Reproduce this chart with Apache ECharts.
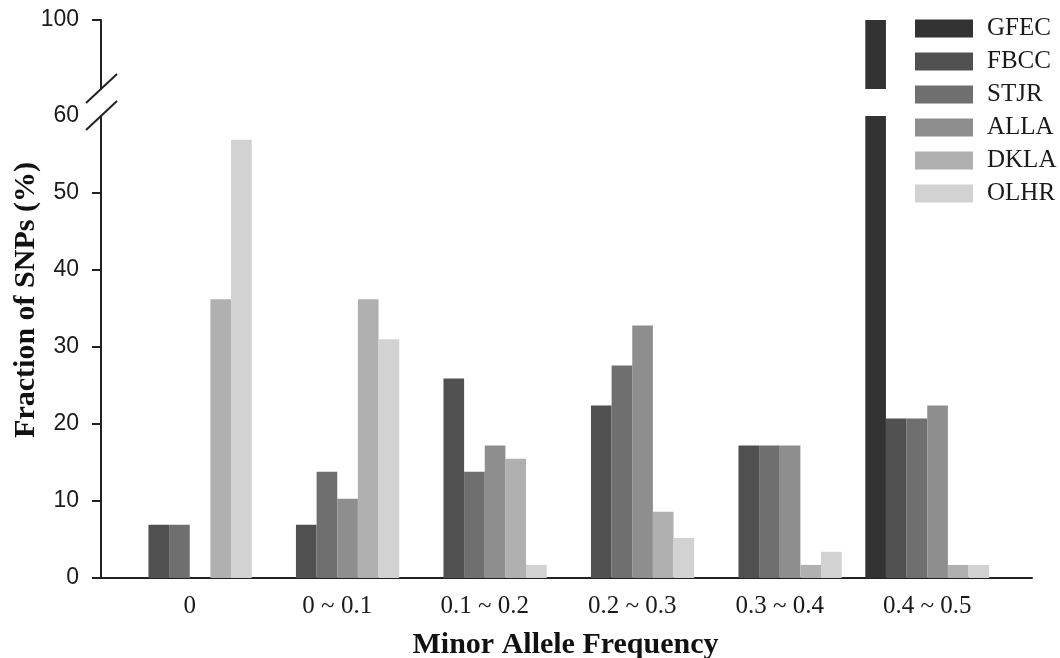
<!DOCTYPE html>
<html>
<head>
<meta charset="utf-8">
<script src="https://cdn.jsdelivr.net/npm/echarts@6/dist/echarts.min.js"></script>
<style>
  html, body { margin: 0; padding: 0; background: #fff; }
  #main { width: 1060px; height: 658px; }
</style>
</head>
<body>
<div id="main"></div>
<script>
// 数据
const categories = ['0', '0 ~ 0.1', '0.1 ~ 0.2', '0.2 ~ 0.3', '0.3 ~ 0.4', '0.4 ~ 0.5'];
const seriesNames = ['GFEC', 'FBCC', 'STJR', 'ALLA', 'DKLA', 'OLHR'];
const gfec = [0, 0, 0, 0, 0, 100];
const fbcc = [6.9, 6.9, 25.9, 22.4, 17.2, 20.7];
const stjr = [6.9, 13.8, 13.8, 27.6, 17.2, 20.7];
const alla = [0, 10.3, 17.2, 32.8, 17.2, 22.4];
const dkla = [36.2, 36.2, 15.5, 8.6, 1.7, 1.7];
const olhr = [56.9, 31.0, 1.7, 5.2, 3.4, 1.7];
const lowerTicks = [0, 10, 20, 30, 40, 50, 60];
const upperTicks = [100];
// 断轴：下段 0~60，上段 91~100
const breakLow = 60;
const breakHigh = 91;
const topValue = 100;

const allValues = [gfec, fbcc, stjr, alla, dkla, olhr];
const colors = ['#333333', '#505050', '#6f6f6f', '#8e8e8e', '#b0b0b0', '#d2d2d2'];

let myChart = echarts.init(document.getElementById('main'));

const axisColor = '#222';
const serif = '"Liberation Serif", "Times New Roman", serif';
const sans = '"Liberation Sans", Arial, sans-serif';

let series = [];
allValues.forEach((vals, i) => {
  // 下段
  series.push({
    name: seriesNames[i],
    type: 'bar',
    xAxisIndex: 0,
    yAxisIndex: 0,
    data: vals,
    clip: true,
    barGap: '0%',
    barCategoryGap: '16%',
    itemStyle: { color: colors[i] }
  });
  // 上段 只画超过断点的部分
  series.push({
    name: seriesNames[i],
    type: 'bar',
    xAxisIndex: 1,
    yAxisIndex: 1,
    data: vals.map(v => v > breakLow ? v : '-'),
    clip: true,
    barGap: '0%',
    barCategoryGap: '16%',
    itemStyle: { color: colors[i] }
  });
});

let option = {
  animation: false,
  legend: {
    data: seriesNames,
    orient: 'vertical',
    left: 915,
    top: 16,
    padding: 0,
    icon: 'rect',
    itemWidth: 58,
    itemHeight: 18,
    itemGap: 8,
    selectedMode: false,
    textStyle: {
      fontFamily: serif,
      fontSize: 25,
      lineHeight: 25,
      color: '#1a1a1a',
      padding: [0, 0, 0, 9]
    }
  },
  grid: [
    { left: 116, right: 59, top: 116, bottom: 80, outerBoundsMode: 'none' },
    { left: 116, right: 59, top: 20, height: 69, outerBoundsMode: 'none' },
    { left: 101, right: 28, top: 116, bottom: 80, outerBoundsMode: 'none' }
  ],
  xAxis: [
    {
      type: 'category',
      gridIndex: 0,
      data: categories,
      axisLine: { show: false },
      axisTick: { show: false },
      axisLabel: {
        fontFamily: serif,
        fontSize: 25,
        color: '#1a1a1a',
        margin: 16
      },
      name: 'Minor Allele Frequency',
      nameLocation: 'middle',
      nameGap: 52,
      nameTextStyle: {
        fontFamily: serif,
        fontWeight: 'bold',
        fontSize: 30,
        color: '#111',
        padding: [0, 0, 0, 14]
      }
    },
    {
      type: 'category',
      gridIndex: 1,
      data: categories,
      show: false
    },
    {
      type: 'value',
      gridIndex: 2,
      min: 0,
      max: 1,
      axisLine: { show: true, lineStyle: { color: axisColor, width: 2 } },
      axisTick: { show: false },
      axisLabel: { show: false },
      splitLine: { show: false }
    }
  ],
  yAxis: [
    {
      type: 'value',
      gridIndex: 0,
      min: 0,
      max: breakLow,
      interval: 10,
      offset: 15,
      axisLine: { show: true, lineStyle: { color: axisColor, width: 2 } },
      axisTick: {
        show: true,
        length: 9,
        customValues: lowerTicks.filter(v => v < breakLow),
        lineStyle: { color: axisColor, width: 2 }
      },
      axisLabel: {
        customValues: lowerTicks,
        fontFamily: sans,
        fontSize: 23,
        color: '#1a1a1a',
        margin: 22
      },
      splitLine: { show: false }
    },
    {
      type: 'value',
      gridIndex: 1,
      min: breakHigh,
      max: topValue,
      offset: 15,
      axisLine: { show: true, lineStyle: { color: axisColor, width: 2 } },
      axisTick: {
        show: true,
        length: 9,
        customValues: upperTicks,
        lineStyle: { color: axisColor, width: 2 }
      },
      axisLabel: {
        customValues: upperTicks,
        fontFamily: sans,
        fontSize: 23,
        color: '#1a1a1a',
        margin: 22
      },
      splitLine: { show: false }
    },
    {
      type: 'value',
      gridIndex: 2,
      show: false
    }
  ],
  series: series
};

myChart.setOption(option);

// 断轴斜线 和 纵轴标题
const axisX = 116 - 15;
const yUpperEnd = myChart.convertToPixel({ yAxisIndex: 1 }, breakHigh);
const yLowerStart = myChart.convertToPixel({ yAxisIndex: 0 }, breakLow);
function slash(y) {
  return {
    type: 'line',
    z: 100,
    shape: { x1: axisX - 15, y1: y + 14, x2: axisX + 16, y2: y - 15 },
    style: { stroke: axisColor, lineWidth: 2 }
  };
}
myChart.setOption({
  graphic: [
    slash(yUpperEnd),
    slash(yLowerStart),
    {
      type: 'text',
      x: 26,
      y: 300,
      rotation: Math.PI / 2,
      style: {
        text: 'Fraction of SNPs (%)',
        font: 'bold 30px ' + serif,
        fill: '#111',
        align: 'center',
        verticalAlign: 'middle'
      }
    }
  ]
});
</script>
</body>
</html>
